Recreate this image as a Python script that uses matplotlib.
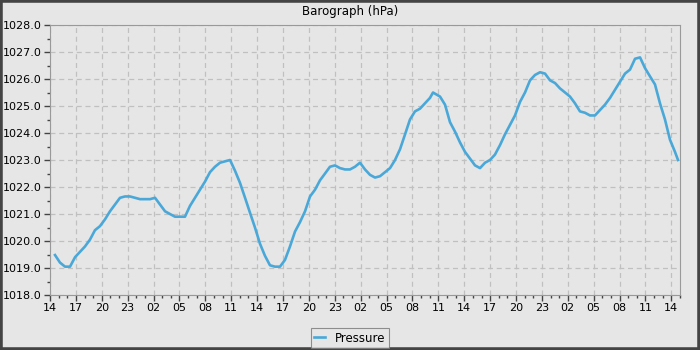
import matplotlib
matplotlib.use("Agg")
import matplotlib.pyplot as plt
from matplotlib.ticker import MultipleLocator, FuncFormatter
from matplotlib.patches import Rectangle

# hours since 14:00 on the first day
hours = [0.58, 1.16, 1.74, 2.32, 2.90, 3.48, 4.06, 4.63, 5.21, 5.79,
         6.37, 6.95, 7.53, 8.11, 8.69, 9.27, 9.85, 10.43, 11.01, 11.59,
         12.17, 12.75, 13.33, 13.90, 14.48, 15.06, 15.64, 16.22, 16.80, 17.38,
         17.96, 18.54, 19.12, 19.70, 20.28, 20.86, 21.44, 22.02, 22.60, 23.17,
         23.75, 24.33, 24.91, 25.49, 26.07, 26.65, 27.23, 27.81, 28.39, 28.97,
         29.55, 30.13, 30.71, 31.29, 31.87, 32.44, 33.02, 33.60, 34.18, 34.76,
         35.34, 35.92, 36.50, 37.08, 37.66, 38.24, 38.82, 39.40, 39.98, 40.56,
         41.14, 41.71, 42.29, 42.87, 43.45, 44.03, 44.38, 45.19, 45.77, 46.35,
         46.93, 47.51, 48.09, 48.67, 49.25, 49.83, 50.41, 50.98, 51.56, 52.14,
         52.72, 53.30, 53.88, 54.46, 55.04, 55.62, 56.20, 56.78, 57.36, 57.94,
         58.52, 59.10, 59.68, 60.25, 60.83, 61.41, 61.99, 62.57, 63.15, 63.73,
         64.31, 64.89, 65.47, 66.05, 66.63, 67.21, 67.79, 68.37, 68.95, 69.52,
         70.10, 70.68, 71.26, 71.84, 72.42, 72.77]
pressure = [1019.48, 1019.2, 1019.05, 1019.05, 1019.4, 1019.6, 1019.8, 1020.05,
            1020.4, 1020.55, 1020.8, 1021.1, 1021.35, 1021.6, 1021.65, 1021.65,
            1021.6, 1021.55, 1021.55, 1021.55, 1021.6, 1021.35, 1021.1, 1021.0,
            1020.9, 1020.9, 1020.9, 1021.3, 1021.6, 1021.9, 1022.2, 1022.55,
            1022.75, 1022.9, 1022.95, 1023.0, 1022.6, 1022.15, 1021.6, 1021.05,
            1020.5, 1019.9, 1019.45, 1019.1, 1019.05, 1019.05, 1019.3, 1019.8,
            1020.35, 1020.7, 1021.1, 1021.65, 1021.9, 1022.25, 1022.5, 1022.75,
            1022.8, 1022.7, 1022.65, 1022.65, 1022.75, 1022.9, 1022.65, 1022.45,
            1022.35, 1022.4, 1022.55, 1022.7, 1023.0, 1023.4, 1023.95, 1024.5,
            1024.8, 1024.9, 1025.1, 1025.3, 1025.5, 1025.35, 1025.05, 1024.4,
            1024.05, 1023.65, 1023.3, 1023.05, 1022.8, 1022.7, 1022.9, 1023.0,
            1023.2, 1023.55, 1023.95, 1024.3, 1024.65, 1025.15, 1025.5, 1025.95,
            1026.15, 1026.25, 1026.2, 1025.95, 1025.85, 1025.65, 1025.5, 1025.35,
            1025.1, 1024.8, 1024.75, 1024.65, 1024.65, 1024.85, 1025.05, 1025.3,
            1025.6, 1025.9, 1026.2, 1026.35, 1026.75, 1026.8, 1026.4, 1026.1,
            1025.8, 1025.1, 1024.5, 1023.75, 1023.3, 1023.0]
start_hour = 14
bg = "#e6e6e6"
line_color = "#4aa8d8"

fig = plt.figure(figsize=(7, 3.5), dpi=100, facecolor=bg)
ax = fig.add_axes([50 / 700, 55 / 350, 630 / 700, 270 / 350])
ax.set_facecolor(bg)

line, = ax.plot(hours, pressure, color=line_color, lw=1.9, label="Pressure")

ax.set_xlim(0, 73)
ax.set_ylim(1018, 1028)
ax.xaxis.set_major_locator(MultipleLocator(3))
ax.xaxis.set_minor_locator(MultipleLocator(1))
ax.yaxis.set_major_locator(MultipleLocator(1))
ax.yaxis.set_minor_locator(MultipleLocator(0.5))
ax.xaxis.set_major_formatter(FuncFormatter(lambda v, p: "%02d" % ((start_hour + int(round(v))) % 24)))
ax.yaxis.set_major_formatter(FuncFormatter(lambda v, p: "%.1f" % v))
ax.tick_params(which="major", length=4, width=1, color="#444444", labelsize=8, pad=2)
ax.tick_params(which="minor", length=2, width=1, color="#444444")
ax.grid(True, which="major", color="#c0c0c0", ls=(0, (4, 3)), lw=0.9)
for s in ax.spines.values():
    s.set_color("#999999")

fig.text(0.5, 1 - 12 / 350, "Barograph (hPa)", ha="center", va="center", fontsize=8.5)

leg = fig.legend(handles=[line], loc="center", bbox_to_anchor=(0.5, 12 / 350), fontsize=8.5,
                 frameon=True, fancybox=False, edgecolor="#777777", facecolor=bg,
                 handlelength=0.9, borderpad=0.3, handletextpad=0.9, borderaxespad=0)
leg.get_frame().set_linewidth(0.8)

fig.patches.append(Rectangle((0, 0), 1, 1, transform=fig.transFigure, fill=False,
                             edgecolor="#444444", lw=4))

fig.savefig("out.png", dpi=100, facecolor=bg)
